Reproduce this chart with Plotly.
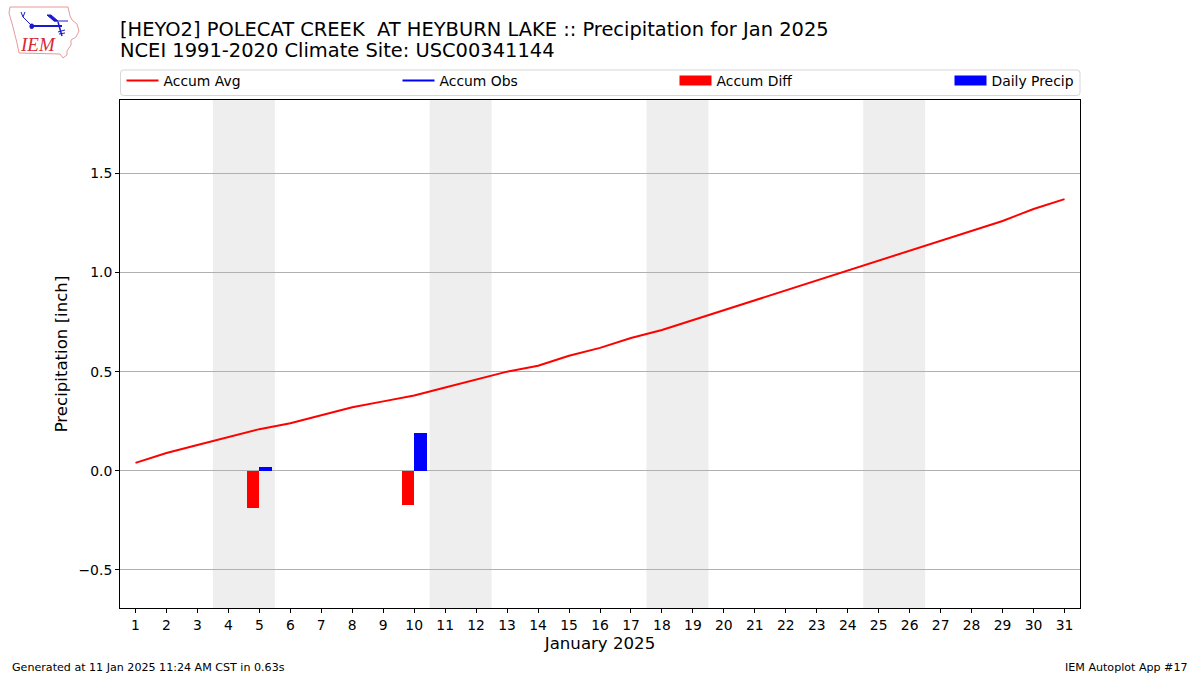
import plotly.graph_objects as go

days = list(range(1, 32))
accum_avg = [0.04, 0.09, 0.13, 0.17, 0.21, 0.24, 0.28, 0.32, 0.35, 0.38, 0.42, 0.46, 0.50, 0.53, 0.58, 0.62,
             0.67, 0.71, 0.76, 0.81, 0.86, 0.91, 0.96, 1.01, 1.06, 1.11, 1.16, 1.21, 1.26, 1.32, 1.37]
diff_days = [5, 10]
accum_diff = [-0.19, -0.17]
precip_days = [5, 10]
daily_precip = [0.02, 0.19]
weekends = [(3.5, 5.5), (10.5, 12.5), (17.5, 19.5), (24.5, 26.5)]
title_line1 = "[HEYO2] POLECAT CREEK  AT HEYBURN LAKE :: Precipitation for Jan 2025"
title_line2 = "NCEI 1991-2020 Climate Site: USC00341144"

FONT = "DejaVu Sans"
L, R, T, B = 120.0, 1080.0, 100.0, 608.0


def px(x):
    return (x - L) / (R - L)


def py(y):
    return (B - y) / (B - T)


def ppath(points, close=False):
    s = "M" + " L".join(f"{px(a):.5f},{py(b):.5f}" for a, b in points)
    return s + (" Z" if close else "")


def rounded_box(x0, y0, x1, y1, r):
    return (f"M{px(x0 + r):.5f},{py(y0):.5f} L{px(x1 - r):.5f},{py(y0):.5f} Q{px(x1):.5f},{py(y0):.5f} {px(x1):.5f},{py(y0 + r):.5f} "
            f"L{px(x1):.5f},{py(y1 - r):.5f} Q{px(x1):.5f},{py(y1):.5f} {px(x1 - r):.5f},{py(y1):.5f} "
            f"L{px(x0 + r):.5f},{py(y1):.5f} Q{px(x0):.5f},{py(y1):.5f} {px(x0):.5f},{py(y1 - r):.5f} "
            f"L{px(x0):.5f},{py(y0 + r):.5f} Q{px(x0):.5f},{py(y0):.5f} {px(x0 + r):.5f},{py(y0):.5f} Z")


iowa = [(10, 7), (68, 7), (70, 16), (72, 20), (77, 24), (79, 31), (76, 37), (71, 40), (71, 45), (67, 51), (67, 55),
        (63, 58), (60, 54), (19, 53), (17, 43), (13, 27), (11, 20), (9, 13)]
logo_lines = [
    ([(32, 26), (62, 26)], 2),
    ([(32, 26), (23, 17), (25, 12)], 1),
    ([(23, 17), (21, 12)], 1),
    ([(58, 22), (62, 36)], 1.5),
    ([(58, 32), (65, 30)], 1),
    ([(59, 34), (65, 33)], 1),
    ([(54, 21), (68, 21)], 1),
]
logo_fill = [(47, 15), (51, 15), (58, 21), (54, 21)]

fig = go.Figure()
fig.add_trace(go.Scatter(x=days, y=accum_avg, mode="lines", name="Accum Avg",
                         line=dict(color="#ff0000", width=2), legend="legend"))
fig.add_trace(go.Scatter(x=[None], y=[None], mode="lines", name="Accum Obs",
                         line=dict(color="#0000ff", width=2), legend="legend2"))
fig.add_trace(go.Bar(x=diff_days, y=accum_diff, name="Accum Diff", width=0.4, offset=-0.4,
                     marker=dict(color="#ff0000", line=dict(width=0)), showlegend=False))
fig.add_trace(go.Scatter(x=[None], y=[None], mode="lines", name="Accum Diff",
                         line=dict(color="#ff0000", width=10), legend="legend3"))
fig.add_trace(go.Bar(x=precip_days, y=daily_precip, name="Daily Precip", width=0.4, offset=0,
                     marker=dict(color="#0000ff", line=dict(width=0)), showlegend=False))
fig.add_trace(go.Scatter(x=[None], y=[None], mode="lines", name="Daily Precip",
                         line=dict(color="#0000ff", width=10), legend="legend4"))

shapes = [dict(type="rect", xref="x", yref="paper", x0=a, x1=b, y0=0, y1=1, layer="below",
               fillcolor="#eeeeee", line=dict(width=0)) for a, b in weekends]
shapes.append(dict(type="path", xref="paper", yref="paper", path=rounded_box(120.5, 70, 1080, 95.5, 3),
                   line=dict(color="#d6d6d6", width=1), layer="above"))
shapes.append(dict(type="path", xref="paper", yref="paper", path=ppath(iowa, True),
                   line=dict(color="#e69a9a", width=1), layer="above"))
for pts, w in logo_lines:
    shapes.append(dict(type="path", xref="paper", yref="paper", path=ppath(pts),
                       line=dict(color="#1a1acc", width=w), layer="above"))
shapes.append(dict(type="path", xref="paper", yref="paper", path=ppath(logo_fill, True), fillcolor="#1a1acc",
                   line=dict(color="#1a1acc", width=1), layer="above"))
shapes.append(dict(type="circle", xref="paper", yref="paper", x0=px(29.5), x1=px(34), y0=py(29), y1=py(23.5),
                   fillcolor="#1a1acc", line=dict(width=0), layer="above"))


def legend_at(x_pixel):
    return dict(orientation="h", x=px(x_pixel), xanchor="left", y=py(65), yanchor="top", bgcolor="rgba(0,0,0,0)",
                itemwidth=32, font=dict(size=13.9, family=FONT), itemclick=False, itemdoubleclick=False)


fig.update_layout(
    width=1200, height=675, autosize=False,
    margin=dict(l=L, r=1200 - R, t=T, b=675 - B, pad=0),
    paper_bgcolor="white", plot_bgcolor="white",
    font=dict(family=FONT, size=13.9, color="black"),
    barmode="overlay", bargap=0,
    shapes=shapes,
    title=dict(text=title_line1, x=120 / 1200, xanchor="left", xref="container", y=1 - 29 / 675,
               yanchor="middle", font=dict(size=19.45, family=FONT, color="black")),
    xaxis=dict(range=[0.5, 31.5], tickmode="array", tickvals=days, ticktext=[str(d) for d in days],
               showgrid=False, zeroline=False, showline=True, mirror=True, linecolor="black", linewidth=1,
               ticks="outside", ticklen=4, tickwidth=1, tickcolor="black", tickangle=0, tickfont=dict(size=13.9),
               title=dict(text="January 2025", font=dict(size=16.6), standoff=5)),
    yaxis=dict(range=[-0.692, 1.870], tickmode="array", tickvals=[-0.5, 0, 0.5, 1.0, 1.5],
               ticktext=["\u22120.5", "0.0", "0.5", "1.0", "1.5"],
               showgrid=True, gridcolor="#b0b0b0", gridwidth=1, zeroline=False, showline=True, mirror=True,
               linecolor="black", linewidth=1, ticks="outside", ticklen=4, tickwidth=1, tickcolor="black",
               tickfont=dict(size=13.9), title=dict(text="Precipitation [inch]", font=dict(size=16.6), standoff=6)),
    legend=legend_at(121.5),
    legend2=legend_at(397.5),
    legend3=legend_at(674.5),
    legend4=legend_at(949.5),
    annotations=[
        dict(text=title_line2, xref="paper", yref="paper", x=px(117.5), y=py(50.5), xanchor="left", yanchor="middle",
             showarrow=False, font=dict(size=19.45, family=FONT, color="black")),
        dict(text="Generated at 11 Jan 2025 11:24 AM CST in 0.63s", xref="paper", yref="paper", x=px(9.5), y=py(667),
             xanchor="left", yanchor="middle", showarrow=False, font=dict(size=11.1)),
        dict(text="IEM Autoplot App #17", xref="paper", yref="paper", x=px(1189.5), y=py(667),
             xanchor="right", yanchor="middle", showarrow=False, font=dict(size=11.1)),
        dict(text="<i>IEM</i>", xref="paper", yref="paper", x=px(37.5), y=py(44.5), xanchor="center", yanchor="middle",
             showarrow=False, font=dict(size=19, family="Liberation Serif", color="#d62a36")),
    ],
)

fig.write_html("out.html", post_script="document.body.style.margin='0';", config={"displayModeBar": False})
